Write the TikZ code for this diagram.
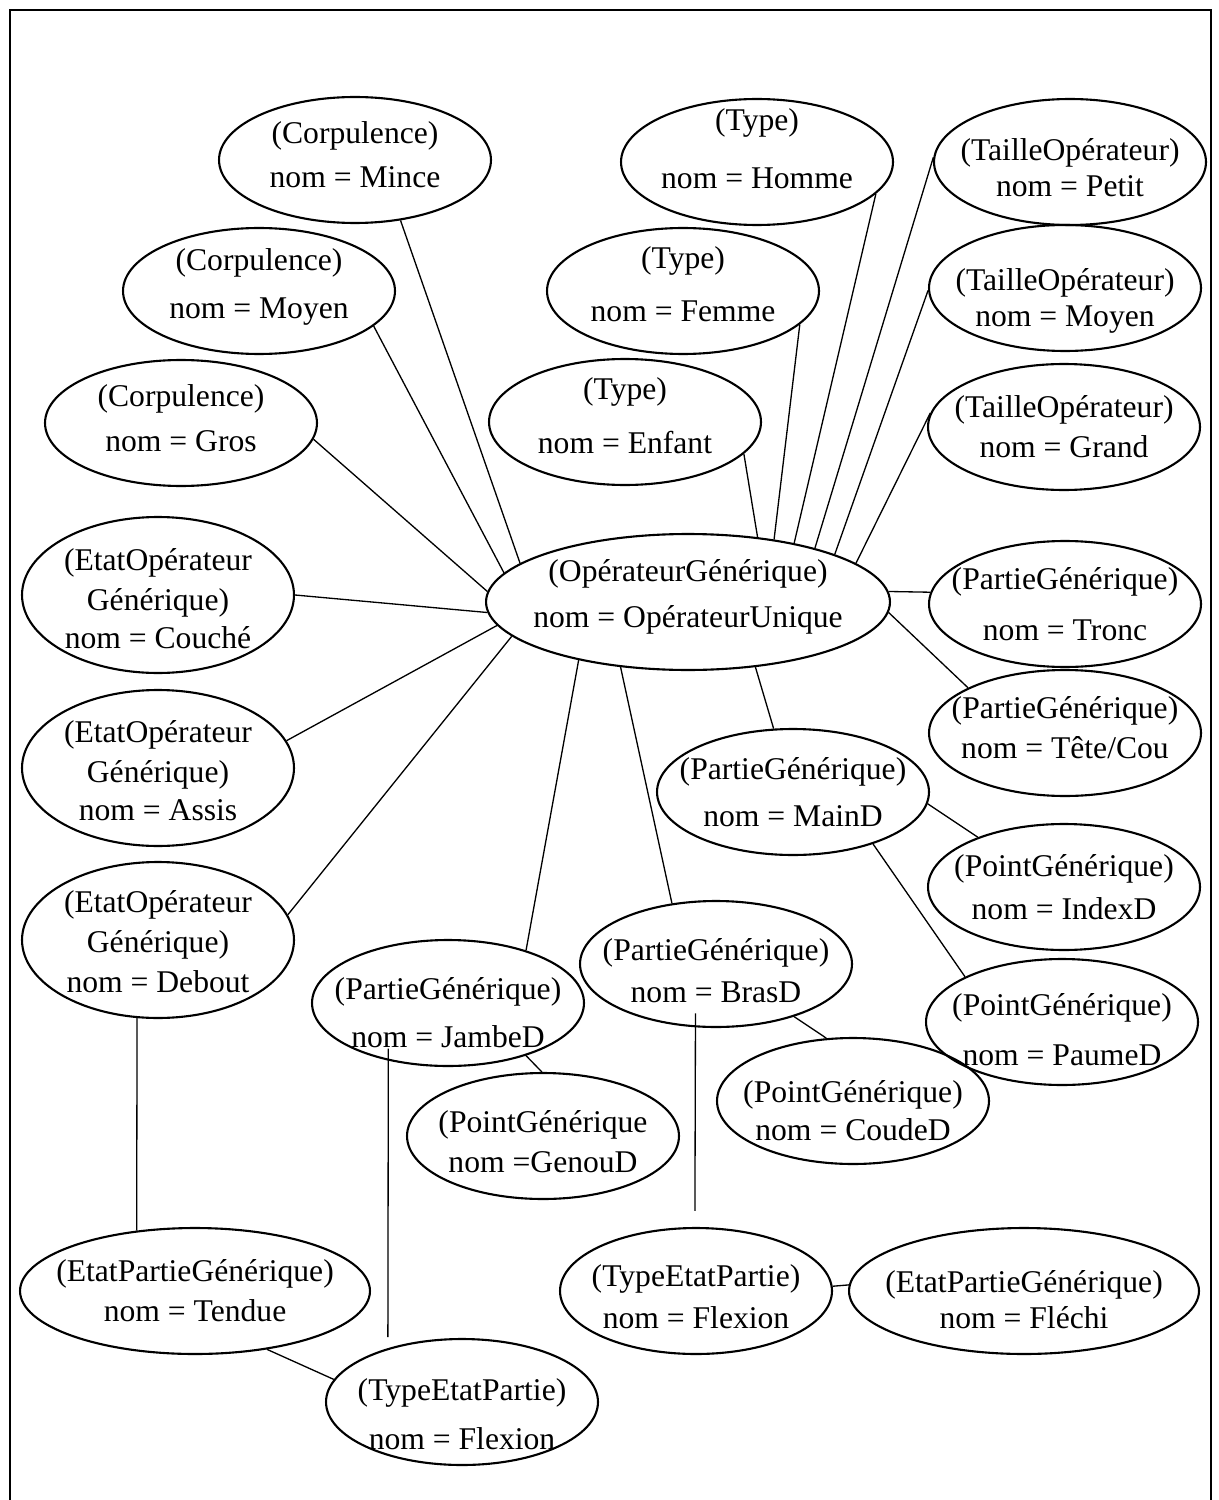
\documentclass[tikz,border=0pt]{standalone}
\usepackage{fontspec}
\setmainfont{Liberation Serif}
\usetikzlibrary{shapes.geometric}

% struts to move a label down (tall first line) or up (deep last line)
\newcommand{\topgap}[1]{\rule{0pt}{#1}}
\newcommand{\lowgap}[1]{\rule[-#1]{0pt}{0pt}}

\begin{document}
\begin{tikzpicture}[
x=0.02cm, y=-0.02cm,
concept/.style={
ellipse,draw,line width=1.2pt,
align=center,
font=\fontsize{18}{22.8}\selectfont,
inner xsep=-1cm, inner ysep=-0.5cm,
minimum width=5.44cm,
minimum height=2.52cm
},
state/.style={concept, minimum height=3.12cm},
wide/.style={concept, minimum width=7cm},
core/.style={concept, minimum width=8.08cm, minimum height=2.72cm},
link/.style={line width=0.75pt}
]

\useasboundingbox (0,0) rectangle (1218,1500);

% frame, open at the bottom
\draw[line width=1.2pt] (10,1500) -- (10,10) -- (1211,10) -- (1211,1500);

% =======================
% CORPULENCE
% =======================

\node[concept] (mince) at (355,160) {(Corpulence)\\[2pt]nom = Mince\lowgap{6pt}};
\node[concept] (moyenc) at (259,291) {(Corpulence)\\[4pt]nom = Moyen\lowgap{8.5pt}};
\node[concept] (gros) at (181,423) {(Corpulence)\\[3pt]nom = Gros\lowgap{6pt}};

% =======================
% TYPE
% =======================

\node[concept] (homme) at (757,162) {(Type)\\[10pt]nom = Homme\lowgap{15pt}};
\node[concept] (femme) at (683,291) {(Type)\\[7pt]nom = Femme\lowgap{8pt}};
\node[concept] (enfant) at (625,422) {(Type)\\[8pt]nom = Enfant\lowgap{7pt}};

% =======================
% TAILLE
% =======================

\node[concept] (petit) at (1070,162) {\topgap{19pt}(TailleOpérateur)\\[-2pt]nom = Petit};
\node[concept] (moyent) at (1065,288) {\topgap{27pt}(TailleOpérateur)\\[-2pt]nom = Moyen};
\node[concept] (grand) at (1064,427) {(TailleOpérateur)\\nom = Grand};

% =======================
% CENTRE
% =======================

\node[core] (oper) at (688,602) {(OpérateurGénérique)\\[3pt]nom = OpérateurUnique\lowgap{9.5pt}};

% =======================
% ETATS DE L'OPERATEUR
% =======================

\node[state] (couche) at (158,595) {\topgap{17pt}(EtatOpérateur\\Générique)\\[-1pt]nom = Couché};
\node[state] (assis) at (158,768) {\topgap{15.5pt}(EtatOpérateur\\Générique)\\[-1pt]nom = Assis};
\node[state] (debout) at (158,940) {\topgap{14.5pt}(EtatOpérateur\\Générique)\\nom = Debout};

% =======================
% PARTIES ET POINTS
% =======================

\node[concept] (tronc) at (1065,604) {(PartieGénérique)\\[6pt]nom = Tronc};
\node[concept] (tete) at (1065,733) {(PartieGénérique)\\nom = Tête/Cou\lowgap{6pt}};
\node[concept] (maind) at (793,792) {(PartieGénérique)\\[4pt]nom = MainD};
\node[concept] (indexd) at (1064,887) {(PointGénérique)\\[2pt]nom = IndexD};
\node[concept] (paumed) at (1062,1022) {\topgap{21pt}(PointGénérique)\\[6pt]nom = PaumeD};
\node[concept] (brasd) at (716,964) {\topgap{20pt}(PartieGénérique)\\[1pt]nom = BrasD};
\node[concept] (coude) at (853,1101) {\topgap{23.5pt}(PointGénérique)\\[-1pt]nom = CoudeD};
\node[concept] (jambed) at (448,1003) {\topgap{23.5pt}(PartieGénérique)\\[5pt]nom = JambeD};
\node[concept] (genoud) at (543,1136) {\topgap{19pt}(PointGénérique\\nom =GenouD};

% =======================
% ETATS DES PARTIES
% =======================

\node[wide] (tendue) at (195,1291) {(EtatPartieGénérique)\\nom = Tendue};
\node[concept] (flexa) at (462,1402) {\topgap{26pt}(TypeEtatPartie)\\[5pt]nom = Flexion};
\node[concept] (flexb) at (696,1291) {\topgap{19pt}(TypeEtatPartie)\\[1pt]nom = Flexion};
\node[wide] (flechi) at (1024,1291) {\topgap{22.5pt}(EtatPartieGénérique)\\[-2pt]nom = Fléchi};

% =======================
% LINKS
% =======================

\draw[link] (mince.307) -- (oper.167);
\draw[link] (moyenc.343) -- (oper.171);
\draw[link] (gros.353) -- (oper.177);
\draw[link] (couche.0) -- (oper.183);
\draw[link] (assis.12) -- (oper.187);
\draw[link] (debout.11) -- (oper.191);
\draw[link] (enfant.345) -- (oper.43);
\draw[link] (femme.344) -- (oper.36);
\draw[link] (homme.345) -- (oper.29);
\draw[link] (petit.178) -- (oper.23);
\draw[link] (moyent.181) -- (oper.18);
\draw[link] (grand.174) -- (oper.13);
\draw[link] (oper.3) -- (tronc.175);
\draw[link] (oper.357) -- (tete.155);
\draw[link] (oper.316) -- (maind.107);
\draw[link] (oper.224) -- (brasd.126);
\draw[link] (oper.208) -- (jambed.34);
\draw[link] (maind.355) -- (indexd.150);
\draw[link] (maind.327) -- (paumed.155);
\draw[link] (jambed.326) -- (genoud.91);
\draw[link] (brasd.326) -- (coude.113);
\draw[link] (debout.255) -- (tendue.134);
\draw[link, shorten <=-0.24cm, shorten >=0.22cm] (jambed.224) -- (flexa.144);
\draw[link, shorten <=-0.28cm, shorten >=0.32cm] (brasd.252) -- (flexb.91);
\draw[link] (tendue.321) -- (flexa.170);
\draw[link] (flexb.2) -- (flechi.178);

\end{tikzpicture}
\end{document}
